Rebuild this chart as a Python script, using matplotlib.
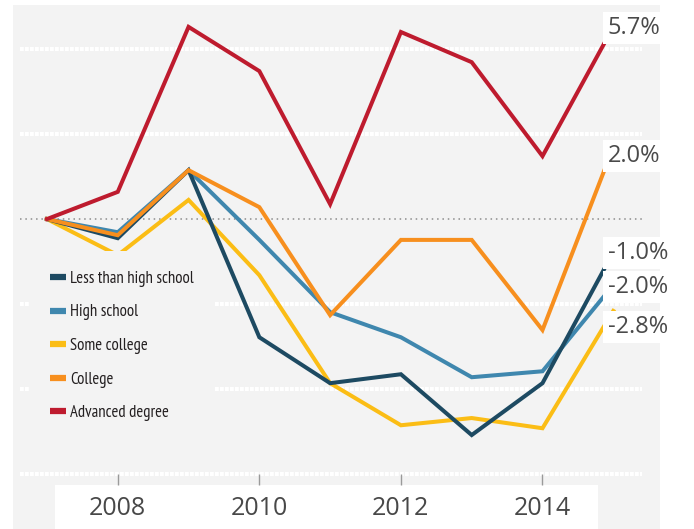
import matplotlib.pyplot as plt
from matplotlib.lines import Line2D
from matplotlib.patches import Rectangle

years = [2007, 2008, 2009, 2010, 2011, 2012, 2013, 2014, 2015]

# cumulative change by education level (percent)
less_hs = [0, -0.45, 1.15, -2.78, -3.86, -3.65, -5.08, -3.86, -0.78]
high_school = [0, -0.31, 1.15, -0.49, -2.19, -2.78, -3.72, -3.58, -1.55]
some_college = [0, -0.85, 0.45, -1.32, -3.86, -4.85, -4.68, -4.92, -2.16]
college = [0, -0.38, 1.15, 0.28, -2.26, -0.49, -0.49, -2.61, 1.69]
advanced = [0, 0.64, 4.52, 3.48, 0.35, 4.40, 3.69, 1.48, 4.52]

names = ["Less than high school", "High school", "Some college", "College", "Advanced degree"]
colors = ["#1d4a62", "#3f87ae", "#fbbd15", "#f78f1e", "#be1b2e"]
series = [less_hs, high_school, some_college, college, advanced]
order = [4, 3, 2, 5, 6]

end_labels = ["5.7%", "2.0%", "-1.0%", "-2.0%", "-2.8%"]
end_label_y = [4.49, 1.48, -0.80, -1.60, -2.54]

xticks = [2008, 2010, 2012, 2014]
grid_y = [4, 2, -2, -4, -6]

panel = "#f3f3f3"
fig = plt.figure(figsize=(6.94, 5.29), dpi=100)
ax = fig.add_axes([13 / 694, 0, 647 / 694, 524 / 529])
ax.set_facecolor(panel)
ax.set_xlim(2006.52, 2015.66)
ax.set_ylim(-7.29, 5.035)
for s in ax.spines.values():
    s.set_visible(False)
ax.set_xticks([])
ax.set_yticks([])

# dotted gridlines, grey zero line
ax.hlines(grid_y, 2006.62, 2015.40, colors="white", lw=3.0, linestyles=(0, (0.9, 0.3)), zorder=1)
ax.hlines(0, 2006.62, 2015.40, colors="#8c8c8c", lw=1.1, linestyles=(0, (1, 2.5)), zorder=1)

for vals, c, z in zip(series, colors, order):
    ax.plot(years, vals, color=c, lw=2.9, zorder=z, solid_joinstyle="miter")

# white strip holding the year labels
ax.add_patch(Rectangle((2007.11, -7.4), 2014.78 - 2007.11, 7.4 - 6.26,
                       facecolor="white", edgecolor="none", zorder=7))
ax.vlines(xticks, -6.26, -6.0, colors="#9a9a9a", lw=1, zorder=7)
for yr in xticks:
    ax.text(yr, -6.8, str(yr), ha="center", va="center", fontsize=18,
            family="Open Sans", color="#484848", zorder=8)

for lab, y in zip(end_labels, end_label_y):
    ax.text(2014.92, y, lab, ha="left", va="center", fontsize=17, family="Open Sans",
            color="#4a4a4a", zorder=9, clip_on=False,
            bbox=dict(facecolor="white", edgecolor="none", pad=3))

handles = [Line2D([], [], color=c, lw=4.5, solid_capstyle="butt") for c in colors]
leg = ax.legend(handles, names, loc="upper left", bbox_to_anchor=(30 / 694, 1 - 251 / 529),
                bbox_transform=fig.transFigure, borderaxespad=0, frameon=True,
                fancybox=False, framealpha=1, facecolor=panel, edgecolor="none",
                handlelength=0.96, handletextpad=0.25, labelspacing=1.05, borderpad=1.2,
                prop={"family": ["PT Sans Narrow", "Roboto Condensed", "DejaVu Sans"],
                      "size": 12})
for t in leg.get_texts():
    t.set_color("#231f20")
leg.set_zorder(6.5)

fig.savefig("out.png", dpi=100)
